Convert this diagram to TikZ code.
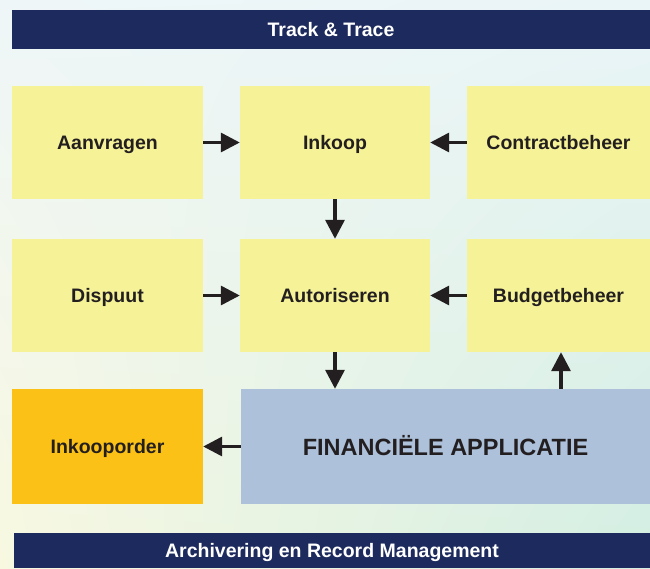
\documentclass[tikz,border=0pt]{standalone}
\usepackage{fontspec}
\setmainfont{Liberation Sans}
\usetikzlibrary{arrows.meta,shadings}

\definecolor{navy}{RGB}{29,42,93}
\definecolor{pale}{RGB}{246,242,151}
\definecolor{gold}{RGB}{251,193,22}
\definecolor{steel}{RGB}{173,193,219}
\definecolor{ink}{RGB}{35,31,32}
\definecolor{bgul}{RGB}{238,246,248}
\definecolor{bgur}{RGB}{234,245,247}
\definecolor{bgll}{RGB}{248,248,224}
\definecolor{bglr}{RGB}{211,238,226}

\begin{document}
\begin{tikzpicture}[x=1pt, y=-1pt,
    box/.style={fill=pale, text=ink, inner sep=0pt, minimum height=113pt,
      text height=14pt, text depth=0pt,
      font=\fontsize{19.5}{22}\selectfont\bfseries},
    bar/.style={fill=navy, text=white, inner sep=0pt,
      text height=14pt, text depth=0pt,
      font=\fontsize{19.5}{22}\selectfont\bfseries},
    pijl/.style={draw=ink, line width=3.3pt, -{Triangle[length=19pt,width=19pt]}}]
  \shade[upper left=bgul, upper right=bgur, lower left=bgll, lower right=bglr]
    (0,0) rectangle (650,568);
  \useasboundingbox (0,0) rectangle (650,568);

  \node[bar, minimum width=638pt, minimum height=39pt] (track) at (331,29.5) {Track \& Trace};
  \node[bar, minimum width=636pt, minimum height=35pt] (archief) at (332,550.5) {Archivering en Record Management};

  \node[box, minimum width=191pt] (aanvragen) at (107.5,142.5) {Aanvragen};
  \node[box, minimum width=190pt] (inkoop) at (335,142.5) {Inkoop};
  \node[box, minimum width=183pt] (contract) at (558.5,142.5) {Contractbeheer};

  \node[box, minimum width=191pt] (dispuut) at (107.5,295.5) {Dispuut};
  \node[box, minimum width=190pt] (autoriseren) at (335,295.5) {Autoriseren};
  \node[box, minimum width=183pt] (budget) at (558.5,295.5) {Budgetbeheer};

  \node[box, fill=gold, minimum width=191pt, minimum height=115pt] (order) at (107.5,446.5) {Inkooporder};
  \node[box, fill=steel, minimum width=409pt, minimum height=115pt, text height=17pt,
    font=\fontsize{23.5}{26}\selectfont\bfseries] (fin) at (445.5,446.5) {FINANCIËLE APPLICATIE};

  \draw[pijl] (aanvragen) -- (inkoop);
  \draw[pijl] (contract) -- (inkoop);
  \draw[pijl] (inkoop) -- (autoriseren);
  \draw[pijl] (dispuut) -- (autoriseren);
  \draw[pijl] (budget) -- (autoriseren);
  \draw[pijl] (autoriseren) -- (autoriseren |- fin.north);
  \draw[pijl] ([xshift=2.5pt]budget.south |- fin.north) -- ([xshift=2.5pt]budget.south);
  \draw[pijl] (fin) -- (order);
\end{tikzpicture}
\end{document}
